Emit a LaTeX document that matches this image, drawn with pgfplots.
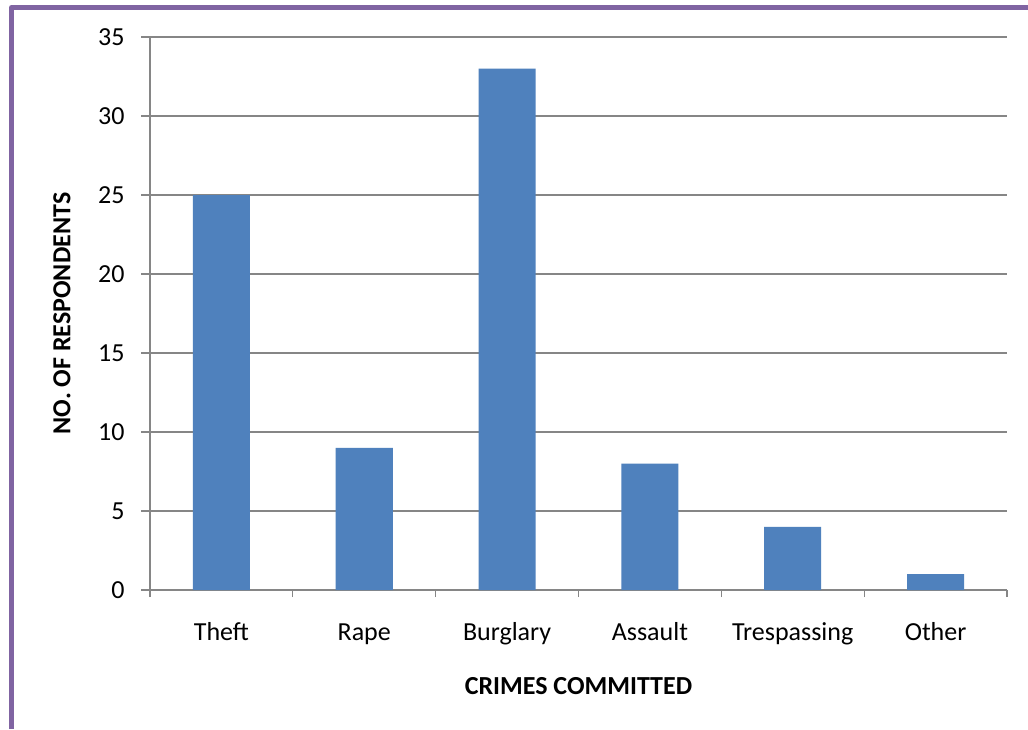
\documentclass[border=0pt]{standalone}
\usepackage{pgfplots}
\pgfplotsset{compat=1.18}
\usepackage{fontspec}
\setmainfont{Carlito}
\definecolor{barblue}{HTML}{4F81BD}
\definecolor{gridgray}{HTML}{868686}
\definecolor{framepurple}{HTML}{8064A2}
\begin{document}
\begin{tikzpicture}
\useasboundingbox (0,0) rectangle (514pt,364.5pt);
\fill[white] (0,0) rectangle (514pt,364.5pt);
\draw[framepurple, line width=2.5pt, line join=round] (5.75pt,0) -- (5.75pt,360.75pt) -- (514pt,360.75pt);
\begin{axis}[
  at={(75pt,69.5pt)}, anchor=south west,
  width=428.5pt, height=276.5pt, scale only axis,
  xmin=-0.5, xmax=5.5, ymin=0, ymax=35,
  axis x line*=bottom, axis y line*=left,
  axis line style={gridgray, line width=0.6pt},
  ytick={0,5,...,35},
  ymajorgrids, grid style={gridgray, line width=0.6pt},
  xtick={0,...,5},
  xticklabels={Theft,Rape,Burglary,Assault,Trespassing,Other},
  minor xtick={-0.5,0.5,...,5.5},
  major x tick style={draw=none},
  minor x tick style={draw=gridgray, line width=0.6pt},
  ytick style={draw=gridgray, line width=0.6pt},
  tick align=outside,
  major tick length=4.5pt, minor tick length=3.5pt,
  /pgf/number format/assume math mode=true,
  ticklabel style={font=\fontsize{13}{15}\selectfont, text=black},
  xticklabel style={anchor=base, yshift=-20.5pt, inner sep=0pt},
  yticklabel style={anchor=east, xshift=-8pt, inner sep=0pt},
  xlabel={\textbf{CRIMES COMMITTED}},
  ylabel={\textbf{NO. OF RESPONDENTS}},
  label style={font=\fontsize{13}{15}\selectfont},
  xlabel style={at={(axis description cs:0.5,-0.1736)}, anchor=center},
  ylabel style={at={(axis description cs:-0.1027,0.5)}, anchor=center},
]
\addplot[ybar, bar width=28.5pt, fill=barblue, draw=none] coordinates {
  (0,25) (1,9) (2,33) (3,8) (4,4) (5,1)
};
\end{axis}
\end{tikzpicture}
\end{document}
